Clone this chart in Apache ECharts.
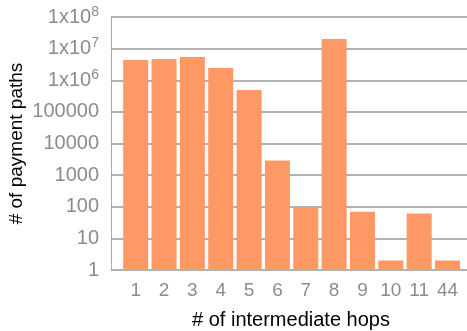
<!DOCTYPE html>
<html>
<head>
<meta charset="utf-8">
<script src="https://cdn.jsdelivr.net/npm/echarts@6/dist/echarts.min.js"></script>
<style>html,body{margin:0;padding:0;background:#fff}#c{width:467px;height:331px}</style>
</head>
<body>
<div id="c"></div>
<script>
var categories = ['1','2','3','4','5','6','7','8','9','10','11','44'];
var pathCounts = [4400000, 4700000, 5400000, 2450000, 490000, 2900, 97, 20000000, 69, 2, 61, 2];
var yTickLabels = ['1','10','100','1000','10000','100000','1x10{sup|6}','1x10{sup|7}','1x10{sup|8}'];
var xTitle = '# of intermediate hops';
var yTitle = '# of payment paths';

var FONT = '"Liberation Sans", Arial, sans-serif';
var GREY = '#8c8c8c';
var chart = echarts.init(document.getElementById('c'), null, {renderer: 'canvas'});
chart.setOption({
  animation: false,
  grid: [
    {left: 111, right: 0, top: 17, bottom: 61},
    {left: 121.5, right: 5.3, top: 17, bottom: 61}
  ],
  xAxis: [
    {gridIndex: 0, type: 'value', min: 0, max: 1, show: false},
    {gridIndex: 1, type: 'category', data: categories,
     axisLine: {show: false}, axisTick: {show: false},
     axisLabel: {color: GREY, fontSize: 19, fontFamily: FONT, margin: 11, interval: 0}}
  ],
  yAxis: [
    {gridIndex: 0, type: 'log', logBase: 10, min: 1, max: 1e8, interval: 1,
     axisLine: {show: true, lineStyle: {color: '#999', type: 'dotted', width: 1}},
     axisTick: {show: false},
     splitLine: {show: true, lineStyle: {color: '#999', width: 1.5}},
     axisLabel: {
       color: GREY, fontSize: 20, fontFamily: FONT, margin: 12,
       formatter: function (v) {
         var e = Math.round(Math.log10(v));
         return yTickLabels[e];
       },
       rich: {
         sup: {fontSize: 14, color: GREY, fontFamily: FONT, padding: [0, 0, 10, 0]}
       }
     }},
    {gridIndex: 1, type: 'log', logBase: 10, min: 1, max: 1e8, show: false}
  ],
  graphic: [
    {type: 'text', x: 291, y: 320, style: {text: xTitle, fill: '#000', fontSize: 20, fontFamily: FONT, textAlign: 'center', textVerticalAlign: 'middle'}},
    {type: 'text', x: 17, y: 143.5, rotation: Math.PI / 2, style: {text: yTitle, fill: '#000', fontSize: 19, fontFamily: FONT, textAlign: 'center', textVerticalAlign: 'middle'}}
  ],
  series: [{
    type: 'bar', xAxisIndex: 1, yAxisIndex: 1,
    data: pathCounts, barWidth: 25,
    itemStyle: {color: '#fe9966'}
  }]
});
</script>
</body>
</html>
